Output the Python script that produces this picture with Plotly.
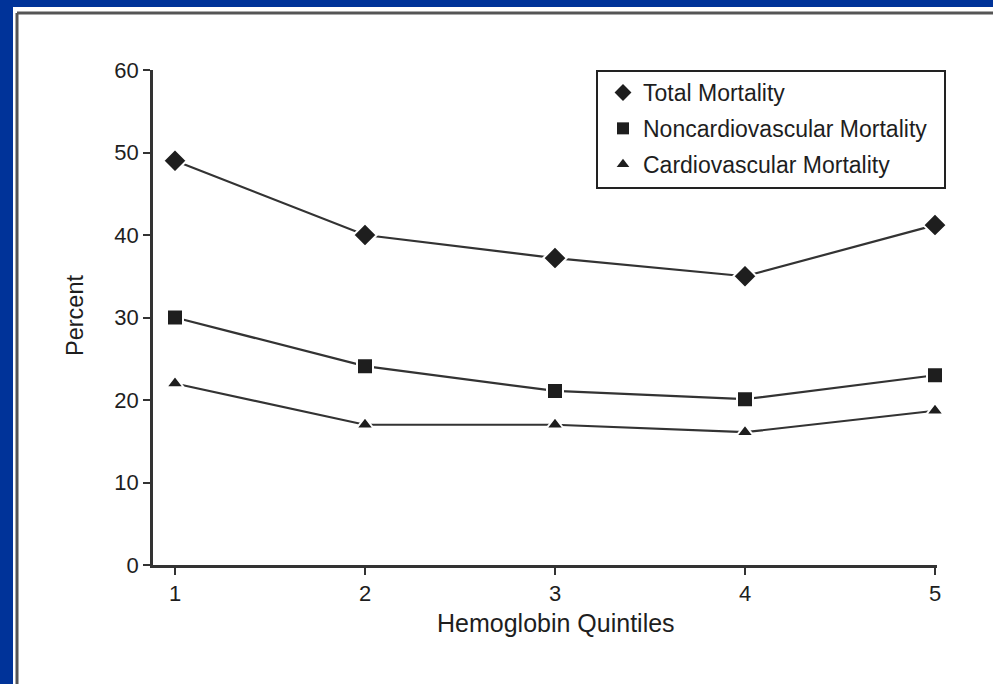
import plotly.graph_objects as go

quintiles = [1, 2, 3, 4, 5]
total_mortality = [49.0, 40.0, 37.2, 35.0, 41.2]
noncardio_mortality = [30.0, 24.1, 21.1, 20.1, 23.0]
cardio_mortality = [22.0, 17.0, 17.0, 16.1, 18.7]

series_names = ["Total Mortality", "Noncardiovascular Mortality", "Cardiovascular Mortality"]
series_values = [total_mortality, noncardio_mortality, cardio_mortality]
symbols = ["diamond", "square", "triangle-up"]
sizes = [18, 16, 15]
legend_sizes = [13, 12, 11]

FONT = "Liberation Sans, Arial, Helvetica, sans-serif"
INK = "#1e1e1e"

W, H = 993, 684
L, R, T, B = 153, 56, 70, 119
pw, ph = W - L - R, H - T - B

def px(x):
    return (x - L) / pw

def py(y):
    return (H - B - y) / ph

fig = go.Figure()
for name, vals, sym, sz in zip(series_names, series_values, symbols, sizes):
    fig.add_trace(go.Scatter(
        x=quintiles, y=vals, mode="lines+markers", showlegend=False,
        line=dict(color="#333333", width=2.2),
        marker=dict(symbol=sym, size=sz, color=INK, line=dict(color="white", width=2)),
        cliponaxis=False,
    ))
for i, (name, sym, lsz) in enumerate(zip(series_names, symbols, legend_sizes)):
    fig.add_trace(go.Scatter(
        x=[None], y=[None], mode="markers", name=name, legendgroup="g%d" % i,
        marker=dict(symbol=sym, size=lsz, color=INK),
    ))

shapes = [
    dict(type="rect", xref="paper", yref="paper", x0=px(13), x1=px(1000), y0=py(700), y1=py(7),
         fillcolor="white", line=dict(width=0), layer="below"),
    dict(type="line", xref="paper", yref="paper", x0=px(17), x1=px(17), y0=py(700), y1=py(13),
         line=dict(color="#555555", width=3), layer="below"),
    dict(type="line", xref="paper", yref="paper", x0=px(17), x1=px(1000), y0=py(13), y1=py(13),
         line=dict(color="#555555", width=3), layer="below"),
    # legend frame
    dict(type="rect", xref="paper", yref="paper", x0=px(597), x1=px(945), y0=py(188), y1=py(71),
         fillcolor="rgba(0,0,0,0)", line=dict(color="#222222", width=2), layer="above"),
]

fig.update_layout(
    width=W, height=H,
    margin=dict(l=L, r=R, t=T, b=B),
    paper_bgcolor="#003399",
    plot_bgcolor="white",
    font=dict(family=FONT, size=22, color=INK),
    shapes=shapes,
    showlegend=True,
    legend=dict(
        x=px(603), y=py(71), xanchor="left", yanchor="top",
        bgcolor="rgba(0,0,0,0)", borderwidth=0,
        font=dict(family=FONT, size=23, color=INK),
        itemsizing="trace", tracegroupgap=3,
    ),
    annotations=[
        dict(text="Hemoglobin Quintiles", xref="paper", yref="paper",
             x=px(556), y=py(623), xanchor="center", yanchor="middle",
             showarrow=False, font=dict(family=FONT, size=25, color=INK)),
        dict(text="Percent", xref="paper", yref="paper",
             x=px(75), y=py(316), xanchor="center", yanchor="middle", textangle=-90,
             showarrow=False, font=dict(family=FONT, size=23.5, color=INK)),
    ],
)

fig.update_xaxes(
    range=[1 - 22 / 190, 5 + 2 / 190], tickvals=quintiles, ticktext=[str(q) for q in quintiles],
    showline=True, linecolor="#333333", linewidth=2.5, ticks="outside", ticklen=7,
    tickwidth=2, tickcolor="#333333", showgrid=False, zeroline=False,
    tickfont=dict(family=FONT, size=22, color=INK),
)
fig.update_yaxes(
    range=[0, 60], tickvals=[0, 10, 20, 30, 40, 50, 60],
    showline=True, linecolor="#333333", linewidth=2.5, ticks="outside", ticklen=7,
    tickwidth=2, tickcolor="#333333", showgrid=False, zeroline=False,
    tickfont=dict(family=FONT, size=22, color=INK),
)

fig.write_html(
    "out.html",
    config={"displayModeBar": False},
    post_script="document.body.style.margin='0px';document.body.style.overflow='hidden';",
)
